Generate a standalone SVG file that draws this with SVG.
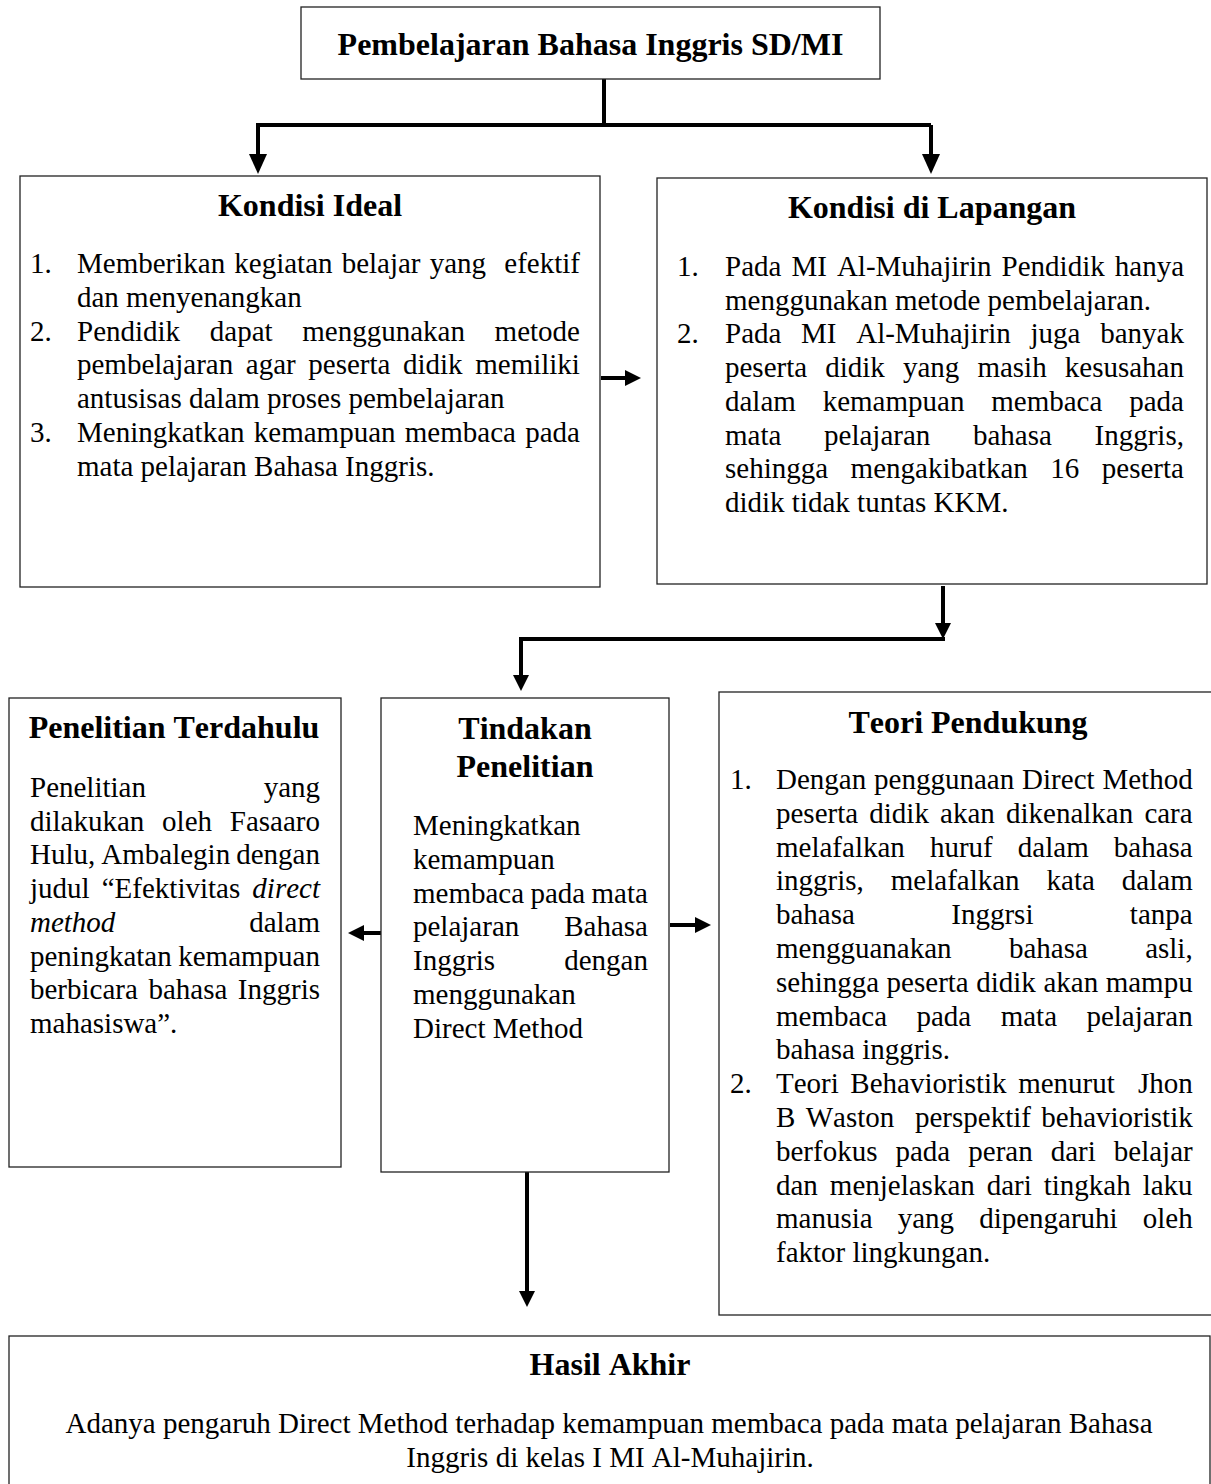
<svg xmlns="http://www.w3.org/2000/svg" width="1211" height="1484" viewBox="0 0 1211 1484">
<style>
.box{fill:#fff;stroke:#222;stroke-width:1.3}
.t{font-family:"Liberation Serif","Times New Roman",serif;font-size:32px;font-weight:bold;text-anchor:middle;fill:#000;font-kerning:none}
.b{font-family:"Liberation Serif","Times New Roman",serif;font-size:29px;fill:#000;font-kerning:none}
.e{text-anchor:end}
.m{text-anchor:middle}
.c{stroke:#000;stroke-width:4;fill:none}
</style>
<defs>
<marker id="ah" markerUnits="userSpaceOnUse" viewBox="0 0 20 18" markerWidth="20" markerHeight="18" refX="0" refY="9" orient="auto"><path d="M0,0 L20,9 L0,18 z" fill="#000"/></marker>
<marker id="as" markerUnits="userSpaceOnUse" viewBox="0 0 16 16" markerWidth="16" markerHeight="16" refX="0" refY="8" orient="auto"><path d="M0,0 L16,8 L0,16 z" fill="#000"/></marker>
</defs>
<g id="connectors">
<path class="c" d="M604,79 V125"/>
<path class="c" d="M931,125 H258 V154" marker-end="url(#ah)"/>
<path class="c" d="M931,125 V154" marker-end="url(#ah)"/>
<path class="c" d="M601,378 H625" marker-end="url(#as)"/>
<path class="c" d="M943,586 V623" marker-end="url(#as)"/>
<path class="c" d="M945,639 H521 V675" marker-end="url(#as)"/>
<path class="c" d="M381,933 H364" marker-end="url(#as)"/>
<path class="c" d="M670,925 H695" marker-end="url(#as)"/>
<path class="c" d="M527,1172 V1291" marker-end="url(#as)"/>
</g>
<g id="top">
<rect class="box" x="301" y="7" width="579" height="72"/>
<text class="t" x="590.5" y="55">Pembelajaran Bahasa Inggris SD/MI</text>
</g>
<g id="ideal">
<rect class="box" x="20" y="176" width="580" height="411"/>
<text class="t" x="310" y="216">Kondisi Ideal</text>
<text class="b" x="30" y="273">1.</text>
<text class="b" x="77" y="273" xml:space="preserve" style="word-spacing:1.87px">Memberikan kegiatan belajar yang  efektif</text>
<text class="b" x="77" y="306.8">dan menyenangkan</text>
<text class="b" x="30" y="340.6">2.</text>
<text class="b" x="77" y="340.6" style="word-spacing:22.42px">Pendidik dapat menggunakan metode</text>
<text class="b" x="77" y="374.4" style="word-spacing:5.35px">pembelajaran agar peserta didik memiliki</text>
<text class="b" x="77" y="408.2">antusisas dalam proses pembelajaran</text>
<text class="b" x="30" y="442">3.</text>
<text class="b" x="77" y="442" style="word-spacing:2.02px">Meningkatkan kemampuan membaca pada</text>
<text class="b" x="77" y="475.8">mata pelajaran Bahasa Inggris.</text>
</g>
<g id="lapangan">
<rect class="box" x="657" y="178" width="550" height="406"/>
<text class="t" x="932" y="218">Kondisi di Lapangan</text>
<text class="b" x="677" y="276">1.</text>
<text class="b" x="725" y="276" style="word-spacing:2.8px">Pada MI Al-Muhajirin Pendidik hanya</text>
<text class="b" x="725" y="309.7">menggunakan metode pembelajaran.</text>
<text class="b" x="677" y="343.4">2.</text>
<text class="b" x="725" y="343.4" style="word-spacing:12.45px">Pada MI Al-Muhajirin juga banyak</text>
<text class="b" x="725" y="377.1" style="word-spacing:10.85px">peserta didik yang masih kesusahan</text>
<text class="b" x="725" y="410.8" style="word-spacing:19.58px">dalam kemampuan membaca pada</text>
<text class="b" x="725" y="444.5" style="word-spacing:35.42px">mata pelajaran bahasa Inggris,</text>
<text class="b" x="725" y="478.2" style="word-spacing:15.28px">sehingga mengakibatkan 16 peserta</text>
<text class="b" x="725" y="511.9">didik tidak tuntas KKM.</text>
</g>
<g id="terdahulu">
<rect class="box" x="9" y="698" width="332" height="469"/>
<text class="t" x="174" y="738">Penelitian Terdahulu</text>
<text class="b" x="30" y="797">Penelitian</text>
<text class="b e" x="320" y="797">yang</text>
<text class="b" x="30" y="830.7" style="word-spacing:10.5px">dilakukan oleh Fasaaro</text>
<text class="b" x="30" y="864.4" style="word-spacing:-1.2px">Hulu, Ambalegin dengan</text>
<text class="b" x="30" y="898.1" style="word-spacing:4.85px">judul “Efektivitas <tspan font-style="italic">direct</tspan></text>
<text class="b" x="30" y="931.8" font-style="italic">method</text>
<text class="b e" x="320" y="931.8">dalam</text>
<text class="b" x="30" y="965.5" style="word-spacing:-0.75px">peningkatan kemampuan</text>
<text class="b" x="30" y="999.2" style="word-spacing:3.3px">berbicara bahasa Inggris</text>
<text class="b" x="30" y="1032.9">mahasiswa”.</text>
</g>
<g id="tindakan">
<rect class="box" x="381" y="698" width="288" height="474"/>
<text class="t" x="525" y="739">Tindakan</text>
<text class="t" x="525" y="777">Penelitian</text>
<text class="b" x="413" y="835">Meningkatkan</text>
<text class="b" x="413" y="868.8">kemampuan</text>
<text class="b" x="413" y="902.6" style="word-spacing:-0.9px">membaca pada mata</text>
<text class="b" x="413" y="936.4">pelajaran</text>
<text class="b e" x="648" y="936.4">Bahasa</text>
<text class="b" x="413" y="970.2">Inggris</text>
<text class="b e" x="648" y="970.2">dengan</text>
<text class="b" x="413" y="1004">menggunakan</text>
<text class="b" x="413" y="1037.8">Direct Method</text>
</g>
<g id="teori">
<rect class="box" x="719" y="692" width="494" height="623"/>
<text class="t" x="968" y="733">Teori Pendukung</text>
<text class="b" x="730" y="789">1.</text>
<text class="b" x="776" y="789" style="word-spacing:0.65px">Dengan penggunaan Direct Method</text>
<text class="b" x="776" y="822.8" style="word-spacing:3.92px">peserta didik akan dikenalkan cara</text>
<text class="b" x="776" y="856.6" style="word-spacing:17.85px">melafalkan huruf dalam bahasa</text>
<text class="b" x="776" y="890.4" style="word-spacing:19.72px">inggris, melafalkan kata dalam</text>
<text class="b" x="776" y="924.2" style="word-spacing:89.15px">bahasa Inggrsi tanpa</text>
<text class="b" x="776" y="958" style="word-spacing:50.1px">mengguanakan bahasa asli,</text>
<text class="b" x="776" y="991.8" style="word-spacing:0.28px">sehingga peserta didik akan mampu</text>
<text class="b" x="776" y="1025.6" style="word-spacing:22.15px">membaca pada mata pelajaran</text>
<text class="b" x="776" y="1059.4">bahasa inggris.</text>
<text class="b" x="730" y="1093.2">2.</text>
<text class="b" x="776" y="1093.2" xml:space="preserve" style="word-spacing:4.3px">Teori Behavioristik menurut  Jhon</text>
<text class="b" x="776" y="1127" xml:space="preserve" style="word-spacing:3.1px">B Waston  perspektif behavioristik</text>
<text class="b" x="776" y="1160.8" style="word-spacing:10.77px">berfokus pada peran dari belajar</text>
<text class="b" x="776" y="1194.6" style="word-spacing:4.7px">dan menjelaskan dari tingkah laku</text>
<text class="b" x="776" y="1228.4" style="word-spacing:17.82px">manusia yang dipengaruhi oleh</text>
<text class="b" x="776" y="1262.2">faktor lingkungan.</text>
</g>
<g id="hasil">
<rect class="box" x="9" y="1336" width="1201" height="160"/>
<text class="t" x="610" y="1375">Hasil Akhir</text>
<text class="b m" x="609" y="1433">Adanya pengaruh Direct Method terhadap kemampuan membaca pada mata pelajaran Bahasa</text>
<text class="b m" x="610" y="1467">Inggris di kelas I MI Al-Muhajirin.</text>
</g>
</svg>
